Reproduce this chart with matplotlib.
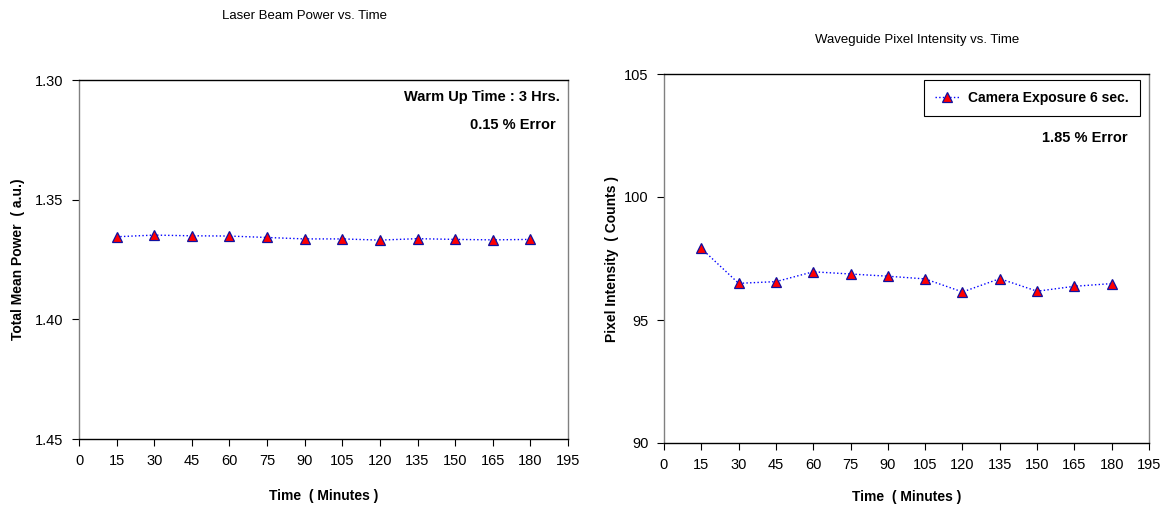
import matplotlib
matplotlib.use("Agg")
import matplotlib.pyplot as plt

plt.rcParams['font.family'] = ['Liberation Sans', 'DejaVu Sans']

# Sampling times (minutes)
time_min = [15, 30, 45, 60, 75, 90, 105, 120, 135, 150, 165, 180]

# Laser beam total mean power (a.u.)
beam_power = [1.3655, 1.3648, 1.3651, 1.3652, 1.3658, 1.3664,
              1.3664, 1.3669, 1.3663, 1.3666, 1.3668, 1.3666]

# Waveguide pixel intensity (counts), camera exposure 6 s
pixel_intensity = [97.91, 96.49, 96.56, 96.96, 96.87, 96.78,
                   96.67, 96.14, 96.68, 96.17, 96.37, 96.48]

x_ticks = list(range(0, 196, 15))
power_ticks = [1.30, 1.35, 1.40, 1.45]
power_tick_labels = ["1.30", "1.35", "1.40", "1.45"]
intensity_ticks = [90, 95, 100, 105]

W, H = 1167, 508
fig = plt.figure(figsize=(W / 100, H / 100), dpi=100)
fig.patch.set_facecolor('white')


def px_axes(x0, y0, x1, y1):
    return fig.add_axes([x0 / W, 1 - y1 / H, (x1 - x0) / W, (y1 - y0) / H])


def style_axes(ax):
    ax.spines['top'].set_color('black')
    ax.spines['bottom'].set_color('black')
    ax.spines['left'].set_color('#808080')
    ax.spines['right'].set_color('#808080')
    for s in ax.spines.values():
        s.set_linewidth(1.0)
    ax.tick_params(direction='out', length=5, width=0.8, colors='black',
                   labelsize=10.5, pad=6)
    ax.set_xlim(0, 195)
    ax.set_xticks(x_ticks)


line_kw = dict(linestyle=':', color='#0000ff', linewidth=1.0, marker='^',
               markersize=6.5, markerfacecolor='#ff0000',
               markeredgecolor='#1010a0', markeredgewidth=0.9)

# Left panel: laser beam power
ax1 = px_axes(79, 80, 568, 439)
style_axes(ax1)
ax1.plot(time_min, beam_power, **line_kw)
ax1.set_ylim(1.45, 1.30)
ax1.set_yticks(power_ticks)
ax1.set_yticklabels(power_tick_labels)
ax1.set_xlabel("Time  ( Minutes )", fontsize=10, fontweight='bold', labelpad=15)
ax1.set_ylabel("Total Mean Power  ( a.u.)", fontsize=10, fontweight='bold', labelpad=7)
fig.text(305 / W, 1 - 16 / H, "Laser Beam Power vs. Time", ha='center',
         va='center', fontsize=9.5)
fig.text(560 / W, 1 - 97 / H, "Warm Up Time : 3 Hrs.", ha='right',
         va='center', fontsize=10.5, fontweight='bold')
fig.text(556 / W, 1 - 125 / H, "0.15 % Error", ha='right',
         va='center', fontsize=10.5, fontweight='bold')

# Right panel: waveguide pixel intensity
ax2 = px_axes(664, 74, 1149, 443)
style_axes(ax2)
ax2.plot(time_min, pixel_intensity, label="Camera Exposure 6 sec.", **line_kw)
ax2.set_ylim(90, 105)
ax2.set_yticks(intensity_ticks)
ax2.set_xlabel("Time  ( Minutes )", fontsize=10, fontweight='bold', labelpad=13)
ax2.set_ylabel("Pixel Intensity  ( Counts )", fontsize=10, fontweight='bold', labelpad=4)
fig.text(917 / W, 1 - 40 / H, "Waveguide Pixel Intensity vs. Time", ha='center',
         va='center', fontsize=9.5)
fig.text(1128 / W, 1 - 138 / H, "1.85 % Error", ha='right',
         va='center', fontsize=10.5, fontweight='bold')
leg = ax2.legend(loc='upper right', bbox_to_anchor=(1140 / W, 1 - 80 / H),
                 bbox_transform=fig.transFigure, fancybox=False, framealpha=1,
                 edgecolor='black', handlelength=1.8, handletextpad=0.6,
                 borderpad=0.8, borderaxespad=0,
                 prop={'size': 10, 'weight': 'bold'})
leg.get_frame().set_linewidth(0.8)

fig.savefig("out.png", dpi=100, facecolor='white')
